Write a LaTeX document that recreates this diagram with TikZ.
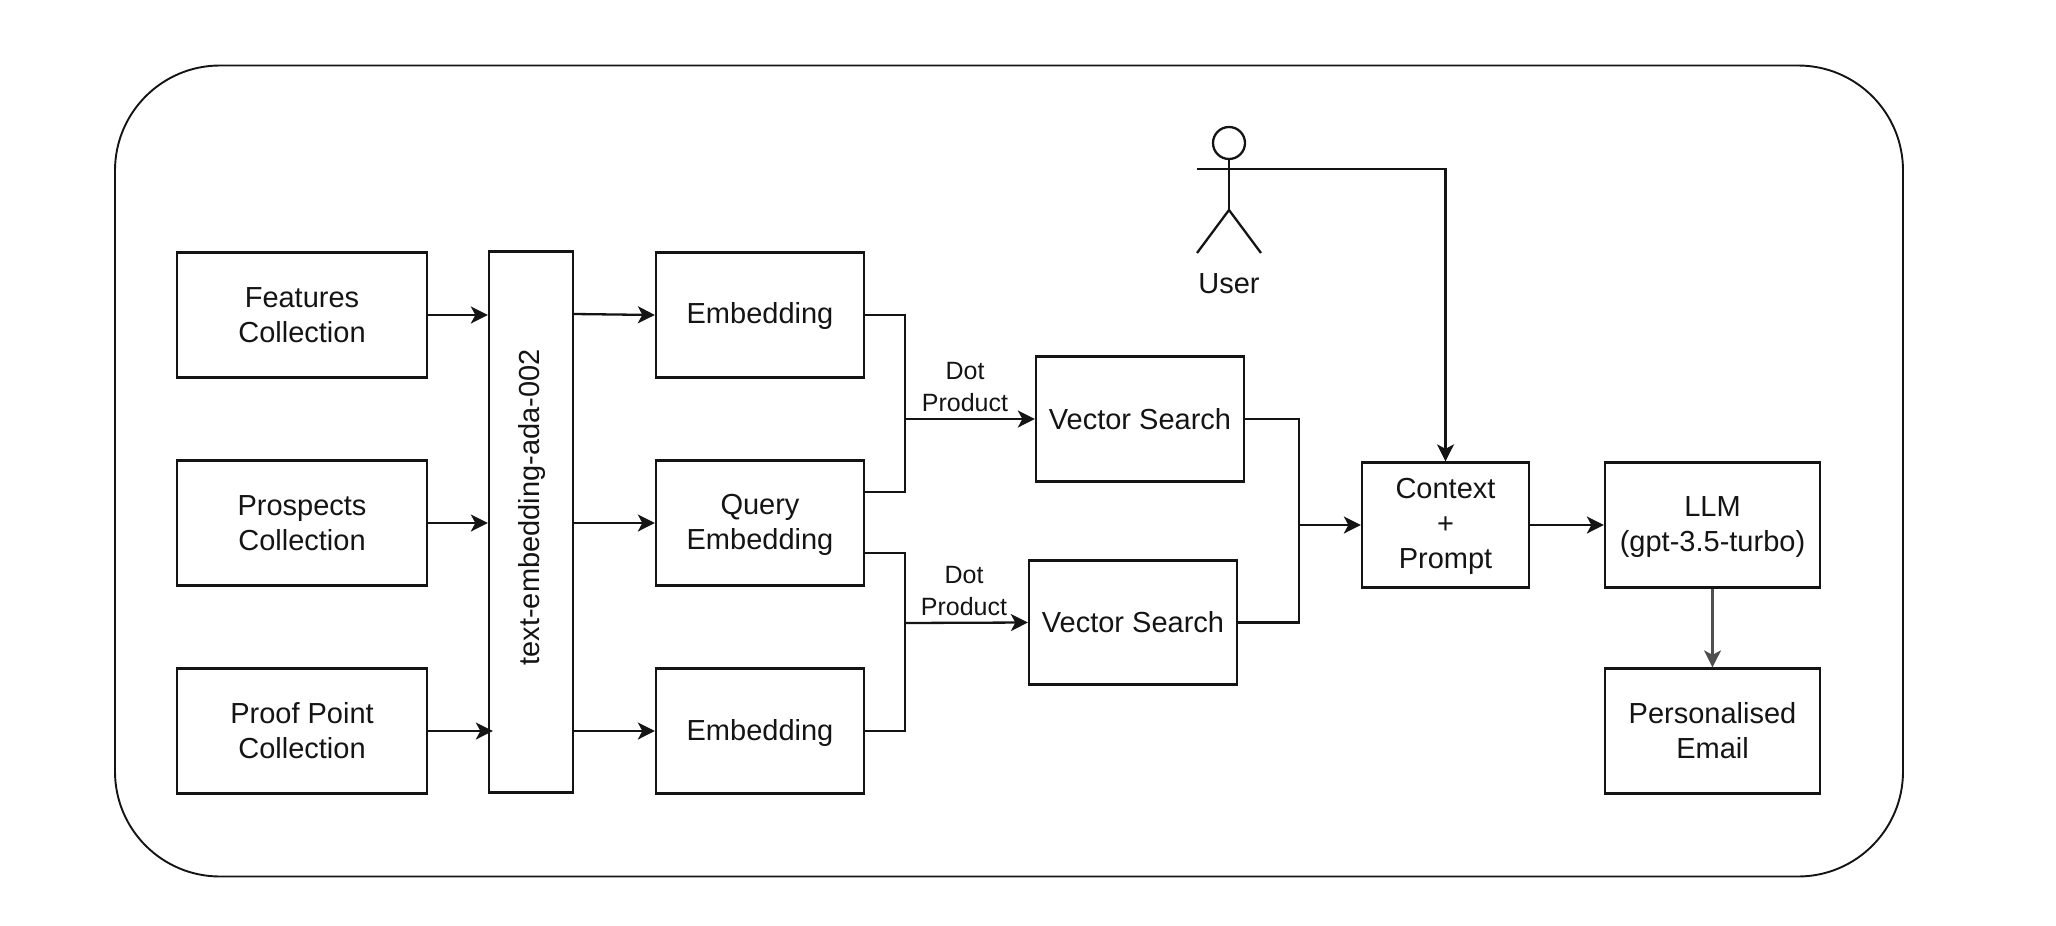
\documentclass[tikz,border=0pt]{standalone}
\usepackage{fontspec}
\setmainfont{Liberation Sans}
\usetikzlibrary{arrows.meta}
\definecolor{ink}{HTML}{141414}
\newcommand{\st}{\vrule height 24pt depth 4pt width 0pt\relax}
\tikzset{
  line/.style={draw=ink,line width=2.3pt},
  box/.style={line,rectangle,inner sep=0pt,align=center,text=ink,font=\fontsize{29}{35}\selectfont},
  small/.style={inner sep=0pt,align=center,text=ink,font=\fontsize{25}{32}\selectfont},
  arrow/.style={line,-{Stealth[length=17pt,width=17pt,inset=4.5pt]}},
  plain/.style={line}
}
\begin{document}
\begin{tikzpicture}[x=1pt,y=-1pt]
\useasboundingbox (0,0) rectangle (2056,926);
\node[draw=ink,line width=1.9pt,rectangle,rounded corners=105pt,minimum width=1788pt,minimum height=811pt,inner sep=0pt] (frame) at (1009,471) {};

\node[box,minimum width=250pt,minimum height=125pt] (feat) at (302,315) {\st Features\\\st Collection};
\node[box,minimum width=250pt,minimum height=125pt] (pros) at (302,523) {\st Prospects\\\st Collection};
\node[box,minimum width=250pt,minimum height=125pt] (proof) at (302,731) {\st Proof Point\\\st Collection};
\node[box,rotate=90,minimum width=541pt,minimum height=84pt] (ada) at (531,522) {\hspace*{29pt}\st text-embedding-ada-002};
\node[box,minimum width=208pt,minimum height=125pt] (emba) at (760,315) {\st Embedding};
\node[box,minimum width=208pt,minimum height=125pt] (query) at (760,523) {\st Query\\\st Embedding};
\node[box,minimum width=208pt,minimum height=125pt] (embb) at (760,731) {\st Embedding};
\node[box,minimum width=208pt,minimum height=125pt] (vsa) at (1140,419) {\st Vector Search};
\node[box,minimum width=208pt,minimum height=124pt] (vsb) at (1133,622.5) {\st Vector Search};
\node[box,minimum width=167pt,minimum height=125pt] (ctx) at (1445.5,525) {\st Context\\\st +\\\st Prompt};
\node[box,minimum width=215pt,minimum height=125pt] (llm) at (1712.5,525) {\st LLM\\\st (gpt-3.5-turbo)};
\node[box,minimum width=215pt,minimum height=125pt] (mail) at (1712.5,731) {\st Personalised\\\st Email};

\node[small] (dota) at (965,387) {Dot\\Product};
\node[small] (dotb) at (964,591) {Dot\\Product};

% actor
\node[line,circle,minimum size=32pt,inner sep=0pt] (head) at (1229,143) {};
\coordinate (arml) at (1197,169);
\coordinate (hip) at (1229,210);
\coordinate (legl) at (1197,253);
\coordinate (legr) at (1261,253);
\node[box,draw=none] (user) at (1229,283) {\st User};
\draw[plain] (head.south) -- (hip);
\draw[plain] (legl) -- (hip) -- (legr);
\draw[arrow] (arml) -| (ctx.north);

% inputs to the embedding model
\draw[arrow] (feat.east) -- (feat.east -| ada.north);
\draw[arrow] (pros.east) -- (pros.east -| ada.north);
\draw[arrow] (proof.east) -- ([xshift=5pt]proof.east -| ada.north);

% embedding model to embeddings
\coordinate (adaa) at ([yshift=1pt]emba.west -| ada.south);
\draw[arrow] (adaa) -- (emba.west);
\draw[arrow] (query.west -| ada.south) -- (query.west);
\draw[arrow] (embb.west -| ada.south) -- (embb.west);

% dot product junctions
\coordinate (ja) at (905,419);
\coordinate (jb) at (905,623);
\coordinate (qa) at (864,492);
\coordinate (qb) at (864,553);
\draw[plain] (emba.east) -| (ja);
\draw[plain] (qa) -| (ja);
\draw[arrow] (ja) -- (vsa.west);
\draw[plain] (qb) -| (jb);
\draw[plain] (embb.east) -| (jb);
\draw[arrow] (jb) -- (vsb.west);

% search to context
\coordinate (jc) at (1299,525);
\draw[plain] (vsa.east) -| (jc);
\draw[plain] (vsb.east) -| (jc);
\draw[arrow] (jc) -- (ctx.west);
\draw[arrow] (ctx.east) -- (llm.west);
\draw[arrow,draw=ink!75,fill=ink!90] (llm.south) -- (mail.north);
\end{tikzpicture}
\end{document}
